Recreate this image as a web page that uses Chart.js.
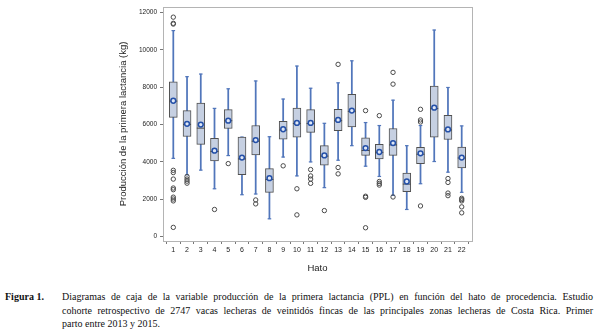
<!DOCTYPE html>
<html>
<head>
<meta charset="utf-8">
<script src="https://cdn.jsdelivr.net/npm/chart.js@4/dist/chart.umd.min.js"></script>
<style>
  body { margin: 0; background: #fff; width: 600px; height: 332px; overflow: hidden; position: relative; }
  #wrap { position: absolute; left: 0; top: 0; width: 600px; height: 278px; }
  .caption { position: absolute; left: 5px; top: 290px; width: 588px; font-family: 'Liberation Serif', serif; font-size: 10px; line-height: 13.5px; color: #111; }
  .caption b { position: absolute; left: 0; top: 0; }
  .caption .txt { margin-left: 57px; }
  .caption .ln { text-align: justify; text-align-last: justify; }
  .caption .ln.last { text-align-last: left; }
</style>
</head>
<body>
<div id="wrap"><canvas id="boxChart" width="600" height="278"></canvas></div>
<div class="caption">
  <b>Figura 1.</b>
  <div class="txt">
    <div class="ln">Diagramas de caja de la variable producción de la primera lactancia (PPL) en función del hato de procedencia. Estudio</div>
    <div class="ln">cohorte retrospectivo de 2747 vacas lecheras de veintidós fincas de las principales zonas lecheras de Costa Rica. Primer</div>
    <div class="ln last">parto entre 2013 y 2015.</div>
  </div>
</div>
<script>
// valores (kg)
const hatos = [1, 2, 3, 4, 5, 6, 7, 8, 9, 10, 11, 12, 13, 14, 15, 16, 17, 18, 19, 20, 21, 22];
const bigoteInf = [4180, 3300, 3550, 2550, 4330, 2230, 2270, 940, 4250, 3240, 3990, 2610, 4080, 4860, 3760, 3210, 2200, 1440, 2820, 4010, 3440, 2360];
const q1 = [6380, 5350, 4930, 4040, 5780, 3300, 4360, 2360, 5210, 5320, 5570, 3810, 5660, 5870, 4340, 4150, 4340, 2390, 3900, 5320, 5190, 3670];
const medianas = [7250, 6000, 5800, 4550, 6200, 4150, 5100, 3050, 5700, 6050, 6050, 4300, 6200, 6700, 4600, 4500, 4900, 2800, 4400, 6850, 5700, 4200];
const medias = [7270, 6030, 5990, 4590, 6200, 4220, 5160, 3120, 5740, 6080, 6080, 4340, 6240, 6740, 4730, 4520, 5000, 2940, 4450, 6900, 5730, 4220];
const q3 = [8280, 6740, 7150, 5250, 6790, 5320, 5940, 3630, 6170, 6880, 6790, 4860, 6810, 7610, 5280, 4930, 5780, 3390, 4770, 8050, 6490, 4790];
const bigoteSup = [11030, 8560, 8700, 6860, 7910, 5320, 8330, 5340, 7360, 9130, 7940, 6060, 8230, 9410, 6100, 5940, 7300, 4860, 5940, 11060, 7980, 5920];
const atipicos = [
    [11750, 11420, 11380, 3540, 3420, 3070, 2590, 2500, 2100, 2000, 1900, 480],
    [3200, 3070, 2960, 2850],
    [],
    [1440],
    [3900],
    [],
    [1950, 1740],
    [],
    [3780],
    [2550, 1150],
    [3580, 3240, 3070, 2840],
    [1380],
    [9220, 3690, 3350],
    [],
    [6740, 2150, 2090, 460],
    [6470, 2940, 2840, 2750],
    [8790, 8160, 2110],
    [],
    [6810, 6240, 6130, 1630],
    [],
    [3100, 2890, 2320, 2180],
    [2040, 1970, 1900, 1580, 1260]
];
const yTicks = [0, 2000, 4000, 6000, 8000, 10000, 12000];

const azul = '#5176bb';
const gris = '#4a4a4a';

const cajas = hatos.map((h, i) => ({ x: h, y: [q1[i], q3[i]] }));
const bigotes = hatos.map((h, i) => ({ x: h, y: [bigoteInf[i], bigoteSup[i]] }));
const topes = [];
hatos.forEach((h, i) => {
    topes.push({ x: h, y: bigoteInf[i] });
    topes.push({ x: h, y: bigoteSup[i] });
});
const puntosMediana = hatos.map((h, i) => ({ x: h, y: medianas[i] }));
const puntosMedia = hatos.map((h, i) => ({ x: h, y: medias[i] }));
const puntosAtipicos = [];
atipicos.forEach((lista, i) => {
    lista.forEach(v => puntosAtipicos.push({ x: hatos[i], y: v }));
});

// marco gris alrededor del area de trazado
const marco = {
    id: 'marco',
    afterDraw(chart) {
        const a = chart.chartArea;
        const c = chart.ctx;
        c.save();
        c.strokeStyle = '#b4b4b4';
        c.lineWidth = 1;
        c.strokeRect(Math.round(a.left) + 0.5, Math.round(a.top) + 0.5, Math.round(a.right - a.left), Math.round(a.bottom - a.top));
        c.restore();
    }
};

const ctx = document.getElementById('boxChart').getContext('2d');
new Chart(ctx, {
    data: {
        datasets: [
            { type: 'scatter', data: puntosMedia, order: 1, pointStyle: 'circle', pointRadius: 2.4, borderColor: '#2450a8', borderWidth: 1.5, backgroundColor: '#dfe7f6' },
            { type: 'scatter', data: puntosMediana, order: 2, pointStyle: 'line', pointRadius: 4, borderColor: gris, borderWidth: 1 },
            { type: 'scatter', data: puntosAtipicos, order: 3, pointStyle: 'circle', pointRadius: 2.2, borderColor: gris, borderWidth: 1, backgroundColor: 'rgba(255,255,255,0)' },
            { type: 'bar', data: cajas, order: 4, grouped: false, barThickness: 8, backgroundColor: '#c6d0e2', borderColor: '#505050', borderWidth: 1, borderSkipped: false },
            { type: 'scatter', data: topes, order: 5, pointStyle: 'line', pointRadius: 1.8, borderColor: azul, borderWidth: 1.2 },
            { type: 'bar', data: bigotes, order: 6, grouped: false, barThickness: 1.1, backgroundColor: azul, borderWidth: 0 }
        ]
    },
    options: {
        responsive: false,
        animation: false,
        layout: { padding: { left: 118, right: 128, top: 5, bottom: 4 } },
        plugins: { legend: { display: false }, tooltip: { enabled: false } },
        scales: {
            x: {
                type: 'linear',
                min: 0.25,
                max: 22.75,
                offset: false,
                afterBuildTicks: (scale) => { scale.ticks = hatos.map(v => ({ value: v })); },
                afterFit: (scale) => { scale.height = 33; },
                grid: { drawOnChartArea: false, drawTicks: true, tickLength: 3, color: '#777' },
                border: { display: false },
                ticks: { font: { family: 'Liberation Sans', size: 7 }, color: '#222', padding: 2, maxRotation: 0, autoSkip: false },
                title: { display: true, text: 'Hato', font: { family: 'Liberation Sans', size: 9.5 }, color: '#222', padding: { top: 2, bottom: 0 } }
            },
            y: {
                min: -250,
                max: 12300,
                afterBuildTicks: (scale) => { scale.ticks = yTicks.map(v => ({ value: v })); },
                afterFit: (scale) => { scale.width = 45; },
                grid: { drawOnChartArea: false, drawTicks: true, tickLength: 3, color: '#777' },
                border: { display: false },
                ticks: { font: { family: 'Liberation Sans', size: 6.5 }, color: '#222', padding: 3, callback: (v) => String(v) },
                title: { display: true, text: 'Producción de la primera lactancia (kg)', font: { family: 'Liberation Sans', size: 9.5 }, color: '#222', padding: { top: 0, bottom: 2 } }
            }
        }
    },
    plugins: [marco]
});
</script>
</body>
</html>
